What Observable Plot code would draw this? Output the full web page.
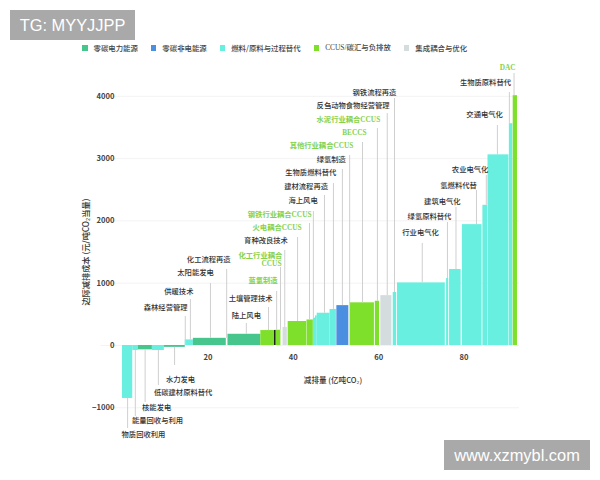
<!DOCTYPE html>
<html><head><meta charset="utf-8">
<script src="https://cdn.jsdelivr.net/npm/d3@7"></script>
<script src="https://cdn.jsdelivr.net/npm/@observablehq/plot@0.6"></script>
<style>
html,body{margin:0;padding:0;background:#fff;width:600px;height:480px;overflow:hidden;position:relative}
#legend{height:50px;box-sizing:border-box;padding:44px 0 0 82px;display:flex;font:500 7.4px "Noto Sans CJK SC",sans-serif;color:#444;line-height:8px;white-space:nowrap}
#legend .sw{width:5.5px;height:5.5px;margin:1px 6px 0 0;flex:none}
#legend .it{display:flex;margin-right:13px}
svg{display:block}
.wm{position:absolute;background:#a9a9a9;color:#fff;font-family:"Liberation Sans",sans-serif;font-size:16.4px;display:flex;align-items:center;justify-content:center}
</style></head><body>
<div id="legend"></div>
<div id="chart"></div>
<div class="wm" style="left:10px;top:10px;width:125px;height:30px">TG: MYYJJPP</div>
<div class="wm" style="left:444px;top:440px;width:146px;height:30px">www.xzmybl.com</div>
<script>
// Categories
const categories = ["零碳电力能源","零碳非电能源","燃料/原料与过程替代","CCUS/碳汇与负排放","集成耦合与优化"];
const categoryColors = ["#46C58D","#4A8FE0","#68EFDF","#7FE02B","#D4DCDE"];

// Bars: abatement start, end (亿吨CO2), marginal cost, category index
const barStart = [0,2.4,3.7,7,9.8,14.7,16.6,24.7,32.4,35.7,37.6,38.8,43.2,44.7,45.2,45.6,48.6,50.2,53.3,59.2,60.5,63.4,64.4,75.9,76.6,79.6,84.4,85.6,90.6,91.5];
const barEnd   = [2.4,3.7,7,9.8,14.7,16.6,24.3,32.4,35.6,37.1,38.6,43.1,44.7,45.2,45.6,48.6,50.1,53,59,60.2,63.1,64.2,75.6,76.4,79.3,84.2,85.5,90.5,91.4,92.5];
const barCost  = [-850,-80,-70,-80,-30,90,115,180,240,245,290,385,410,440,475,518,578,640,685,710,800,850,1005,1075,1220,1940,2250,3060,3560,4010];
const barCat   = [2,2,0,2,0,2,0,0,3,3,4,3,3,2,2,2,2,1,3,3,4,2,2,2,2,2,2,2,2,3];

// Callouts: name, anchor position in chart units, leader position, leader end, leader base, colour group
const calloutName = ["水力发电","低碳建材原料替代","核能发电","能量回收与利用","物质回收利用","森林经营管理","供暖技术","太阳能发电","化工流程再造","土壤管理技术","陆上风电","蓝氢制造","化工行业耦合","育种改良技术","火电耦合CCUS","钢铁行业耦合CCUS","海上风电","建材流程再造","生物质燃料替代","绿氢制造","其他行业耦合CCUS","BECCS","水泥行业耦合CCUS","反刍动物食物经营管理","钢铁流程再造","行业电气化","绿氢原料替代","建筑电气化","氢燃料代替","农业电气化","交通电气化","生物质原料替代","DAC"];
const calloutX = [13.6,14.2,8.0,8.2,4.9,10.1,13.2,17.1,20.2,30.0,29.0,32.9,32.3,33.6,36.2,36.8,42.3,43.0,44.1,48.9,46.6,54.3,52.9,54.0,59.0,69.8,71.9,74.9,78.7,81.4,84.8,85.0,90.2];
const calloutY = [-546,-754,-995,-1204,-1428,610,867,1172,1380,754,481,1043,1449,1685,1894,2103,2327,2552,2777,2985,3210,3419,3632,3857,4060,1814,2070,2311,2568,2825,3708,4221,4462];
const leaderX = [12.2,8.4,5.3,3.0,1.2,14.7,15.9,20.6,24.4,34.2,29.0,36.1,37.0,38.0,41.0,43.8,44.7,47.3,49.4,51.5,53.2,56.2,59.7,62.0,63.7,70.2,76.1,78.1,82.9,85.2,87.8,90.6,91.7];
const leaderEnd = [-321,-642,-915,-1140,-1332,465,738,995,1220,610,353,867,1252,1525,1733,1958,2150,2408,2600,2825,3050,3258,3483,3723,3964,1637,1974,2215,2488,2729,3531,4061,4366];
const leaderBase = [-30,-80,-70,-80,-850,0,90,115,115,240,180,245,245,290,385,410,440,518,578,640,640,685,710,800,850,1005,1075,1220,1940,2250,3060,3560,4010];
const calloutGreen = [0,0,0,0,0,0,0,0,0,0,0,1,1,0,1,1,0,0,0,0,1,1,1,0,0,0,0,0,0,0,0,0,1];

const yTicks = [-1000,0,1000,2000,3000,4000];
const xTicks = [20,40,60,80];
const yTitle = "边际减排成本 (元/吨CO₂当量)";
const xTitle = "减排量 (亿吨CO₂)";
const ccusLine = {name:"CCUS", x:34.9, y:1316};
const darkBar = {x:35.65, y:240};

const bars = barCost.map((v,i)=>({x1:barStart[i],x2:barEnd[i],v,c:categories[barCat[i]]}));
const callouts = calloutName.map((name,i)=>({name,x:calloutX[i],y:calloutY[i],lx:leaderX[i],le:leaderEnd[i],lb:leaderBase[i],g:calloutGreen[i]}));

const legend = document.getElementById("legend");
categories.forEach((c,i)=>{
  const it=document.createElement("div");it.className="it";
  const s=document.createElement("span");s.className="sw";s.style.background=categoryColors[i];
  const t=document.createElement("span");t.textContent=c;
  t.style.fontFamily = i==3 ? '"Liberation Serif","Noto Sans CJK SC",serif' : '"Noto Sans CJK SC",sans-serif';
  it.append(s,t);legend.append(it);
});

const font='"Noto Sans CJK SC",sans-serif';
const serif='"Liberation Serif","Noto Sans CJK SC",serif';
const chart = Plot.plot({
  width:600,height:430,
  marginLeft:122,marginRight:82.6,marginTop:8.4,marginBottom:10.4,
  style:{background:"#fff",fontFamily:font,fontSize:"7.3px",color:"#444"},
  x:{domain:[0,92.6],range:[122,517.4]},
  y:{domain:[-2000,4600],ticks:yTicks},
  color:{domain:categories,range:categoryColors},
  marks:[
    Plot.ruleY(yTicks,{stroke:"#f3f3f3",x1:-5,x2:93}),
    Plot.rect(bars,{x1:"x1",x2:"x2",y1:0,y2:"v",fill:"c"}),
    Plot.ruleX([darkBar],{x:"x",y1:0,y2:"y",stroke:"#1c1c1c",strokeWidth:1.4}),
    Plot.ruleX(callouts,{x:"lx",y1:"lb",y2:"le",stroke:"#cfcfcf",strokeWidth:1}),
    Plot.axisY({ticks:yTicks,tickFormat:d3.format("d"),tickSize:0,tickPadding:8,label:null,fontSize:7.6,fontWeight:600,fill:"#444"}),
    Plot.axisX({ticks:xTicks,tickSize:0,tickPadding:-116,label:null,fontSize:7.6,fontWeight:600,fill:"#444"}),
    Plot.text(callouts.filter(d=>!d.g),{x:"x",y:"y",text:"name",fill:"#333",fontSize:7.3,fontWeight:500,fontFamily:font}),
    Plot.text(callouts.filter(d=>d.g),{x:"x",y:"y",text:"name",fill:"#84d24c",fontSize:7.3,fontWeight:700,fontFamily:serif}),
    Plot.text([ccusLine],{x:"x",y:"y",text:"name",fill:"#84d24c",fontSize:7.3,fontWeight:700,fontFamily:serif}),
    Plot.text([xTitle],{x:49.3,y:-562,text:d=>d,fill:"#333",fontSize:7.6,fontWeight:500,fontFamily:font}),
    Plot.text([yTitle],{x:-8.4,y:1500,text:d=>d,rotate:-90,fill:"#333",fontSize:8.2,fontWeight:500,fontFamily:font})
  ]
});
document.getElementById("chart").append(chart);
</script>
</body></html>
